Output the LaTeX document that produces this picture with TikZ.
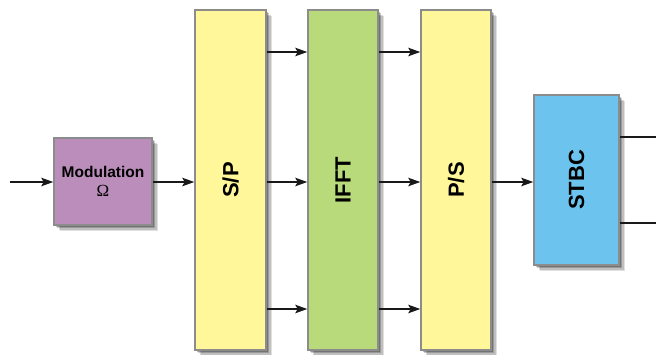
\documentclass[tikz,border=0pt]{standalone}
\usepackage{fontspec}
\setmainfont{Liberation Sans}
\newfontfamily\omfont{Liberation Serif}
\usetikzlibrary{arrows.meta,shadows}
\definecolor{cyel}{HTML}{FFF799}
\definecolor{cgrn}{HTML}{B8DA7B}
\definecolor{cpur}{HTML}{BA8DBB}
\definecolor{cblu}{HTML}{6CC4EE}
\definecolor{cbrd}{HTML}{8C8C8C}
\begin{document}
\begin{tikzpicture}[x=1pt,y=-1pt,
  blk/.style={draw=cbrd, line width=1.5pt, inner sep=0pt,
    drop shadow={shadow xshift=6pt, shadow yshift=-6pt, opacity=0.12, fill=black},
    drop shadow={shadow xshift=4.5pt, shadow yshift=-4.5pt, opacity=0.15, fill=black},
    drop shadow={shadow xshift=3pt, shadow yshift=-3pt, opacity=0.2, fill=black},
    drop shadow={shadow xshift=1.5pt, shadow yshift=-1.5pt, opacity=0.25, fill=black},
    font=\bfseries\fontsize{22}{24}\selectfont},
  arr/.style={-{Stealth[length=12pt,width=8.5pt,inset=2.5pt]}, line width=1.4pt, draw=black!90},
  ln/.style={line width=1.4pt, draw=black!90}]
\useasboundingbox (0,0) rectangle (656,354);
\node[blk, fill=cpur, minimum width=98pt, minimum height=87pt, align=center,
  font=\bfseries\fontsize{15.5}{19}\selectfont] (mod) at (103,181.5)
  {Modulation\\{\omfont\mdseries\fontsize{17}{17}\selectfont Ω}};
\node[blk, fill=cyel, minimum width=71pt, minimum height=340pt] (sp) at (230.5,180) {\rotatebox{90}{S/P}};
\node[blk, fill=cgrn, minimum width=70pt, minimum height=340pt] (ifft) at (343,180) {\rotatebox{90}{IFFT}};
\node[blk, fill=cyel, minimum width=70pt, minimum height=340pt] (ps) at (456,180) {\rotatebox{90}{P/S}};
\node[blk, fill=cblu, minimum width=85pt, minimum height=170pt] (stbc) at (576.5,180) {\rotatebox{90}{STBC}};
\coordinate (in) at (10,182);
\coordinate (r1) at (0,52);
\coordinate (r2) at (0,182);
\coordinate (r3) at (0,309);
\coordinate (o1) at (656,137);
\coordinate (o2) at (656,223);
\draw[arr] (in) -- (mod.west |- in);
\draw[arr] (mod.east |- r2) -- (sp.west |- r2);
\foreach \r in {r1,r2,r3} {
  \draw[arr] (sp.east |- \r) -- (ifft.west |- \r);
  \draw[arr] (ifft.east |- \r) -- (ps.west |- \r);
}
\draw[arr] (ps.east |- r2) -- (stbc.west |- r2);
\draw[ln] (stbc.east |- o1) -- (o1);
\draw[ln] (stbc.east |- o2) -- (o2);
\end{tikzpicture}
\end{document}
